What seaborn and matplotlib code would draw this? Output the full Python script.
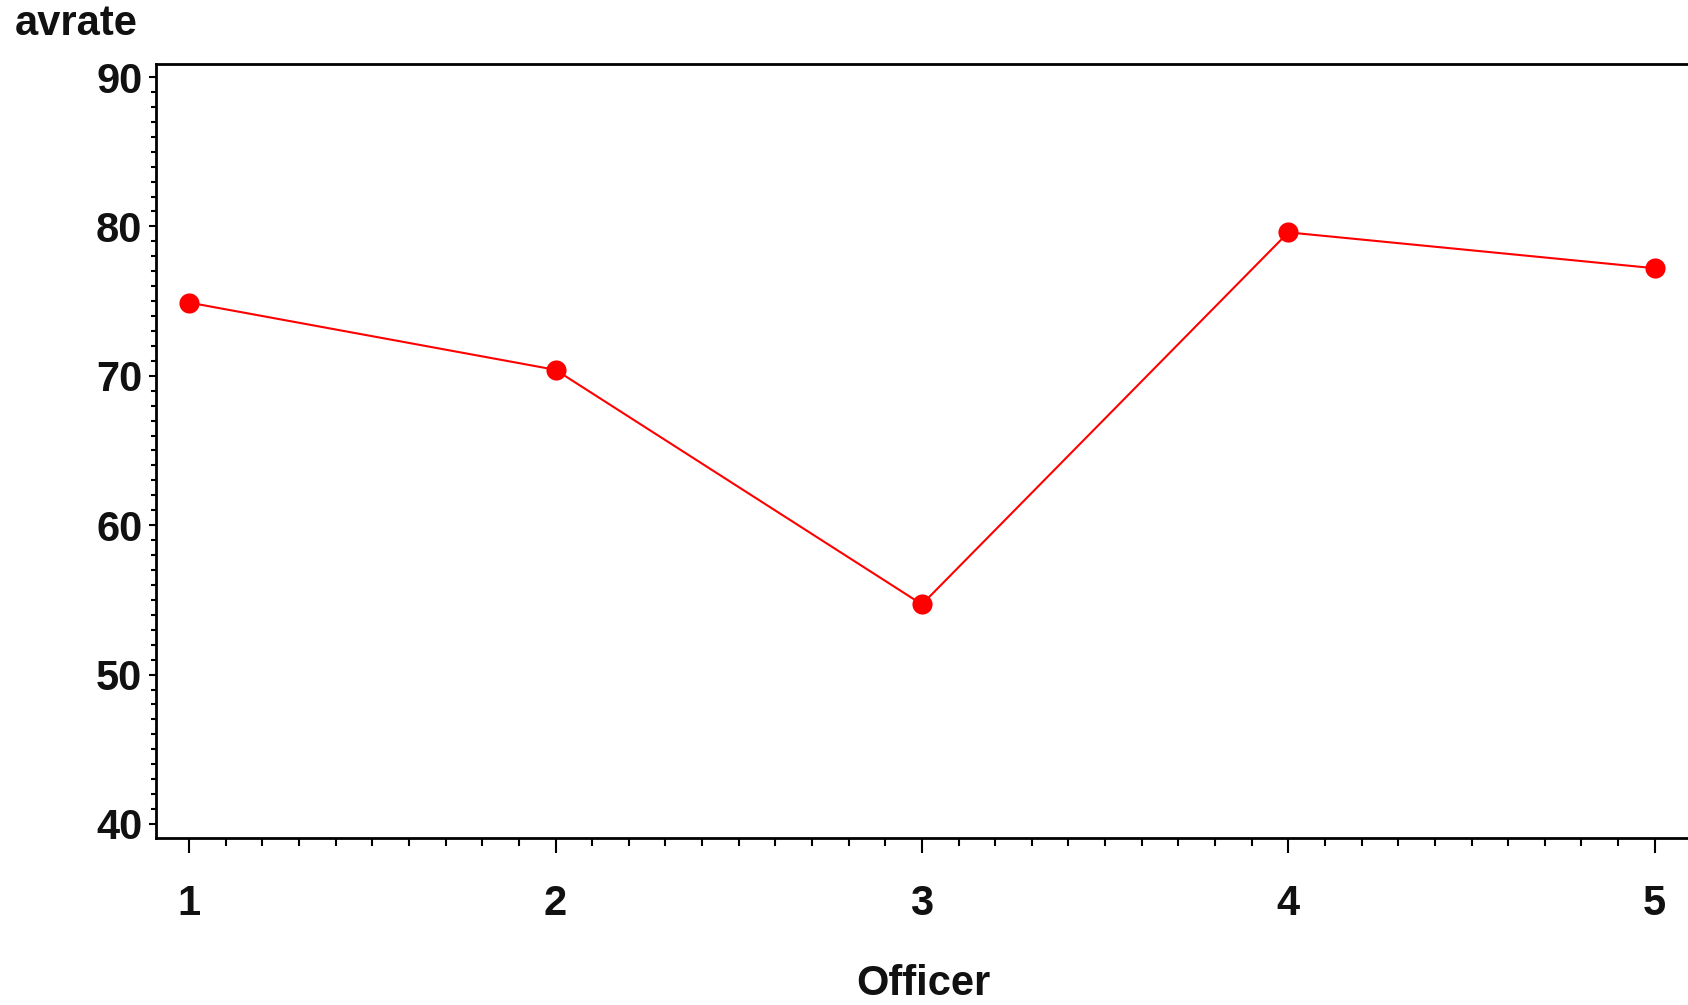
import pandas as pd
import matplotlib
matplotlib.use('Agg')
import matplotlib.pyplot as plt
from matplotlib.ticker import MultipleLocator
import seaborn as sns

# values
officer = [1, 2, 3, 4, 5]
avrate = [74.9, 70.4, 54.7, 79.6, 77.2]

df = pd.DataFrame({'Officer': officer, 'avrate': avrate})

sns.set_style('ticks')
plt.rcParams['font.family'] = ['Liberation Sans', 'DejaVu Sans']

fig = plt.figure(figsize=(16.88, 10.05), dpi=100)
ax = fig.add_axes([0.0925, 0.166, 0.9095, 0.770])

sns.lineplot(data=df, x='Officer', y='avrate', color='red', linewidth=1.5,
             marker='o', markersize=14.5, markeredgewidth=0, ax=ax)

ax.set_xlim(0.91, 5.1)
ax.set_ylim(39.05, 90.85)
ax.xaxis.set_major_locator(MultipleLocator(1))
ax.xaxis.set_minor_locator(MultipleLocator(0.1))
ax.yaxis.set_major_locator(MultipleLocator(10))
ax.yaxis.set_minor_locator(MultipleLocator(1))

ax.tick_params(axis='x', which='major', length=11, width=1.5, pad=22,
               labelsize=30, color='black')
ax.tick_params(axis='x', which='minor', length=6, width=1.5, color='black')
ax.tick_params(axis='y', which='major', length=5, width=1.5, pad=5,
               labelsize=30, color='black')
ax.tick_params(axis='y', which='minor', length=3.5, width=1.5, color='black')
for lab in ax.get_xticklabels() + ax.get_yticklabels():
    lab.set_fontweight('bold')
    lab.set_color('#111111')

for side in ['left', 'bottom', 'top']:
    ax.spines[side].set_linewidth(2)
    ax.spines[side].set_color('black')
ax.spines['right'].set_visible(False)

ax.set_xlabel('Officer', fontsize=30, fontweight='bold', color='#111111', labelpad=29)
ax.set_ylabel('')
fig.text(0.009, 0.976, 'avrate', fontsize=30, fontweight='bold', color='#111111',
         ha='left', va='center')

fig.savefig('out.png', dpi=100)
